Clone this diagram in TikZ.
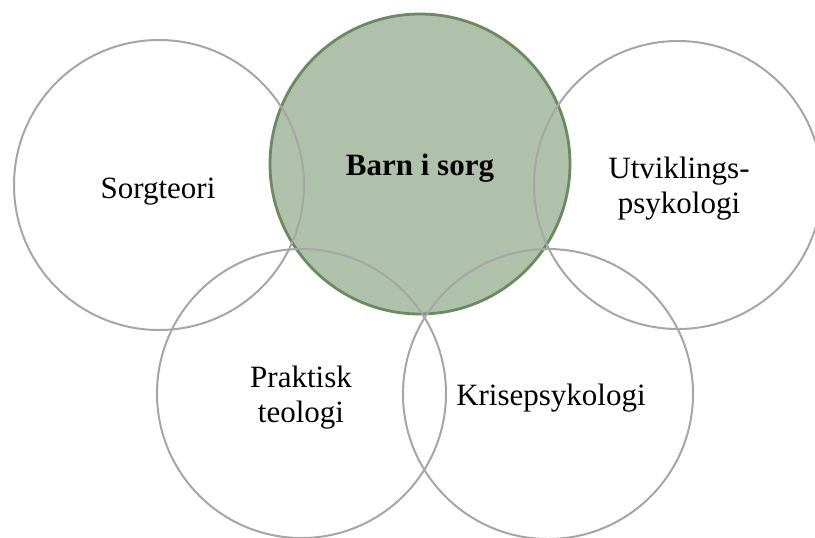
\documentclass[tikz,border=0pt]{standalone}
\usepackage{fontspec}
\setmainfont{Liberation Serif}
\definecolor{ringgray}{HTML}{A6A6A6}
\definecolor{hubfill}{HTML}{AFC1AB}
\definecolor{hubdraw}{HTML}{6A8A5F}
\begin{document}
\begin{tikzpicture}[x=0.5pt,y=-0.5pt,
  ring/.style={circle, draw=ringgray, line width=1pt, inner sep=0pt, minimum size=#1},
  hub/.style={circle, draw=hubdraw, fill=hubfill, line width=1.4pt, inner sep=0pt, minimum size=#1},
  lbl/.style={font=\fontsize{15.5}{17.5}\selectfont, align=center, inner sep=0pt, anchor=base}]
\useasboundingbox (0,0) rectangle (815,537);
\clip (0,0) rectangle (815,537);
\node[hub=150pt] (hubc) at (420,164) {};
\node[ring=145pt] (sorg) at (159,185) {};
\node[ring=144pt] (utv) at (678,185) {};
\node[ring=144.5pt] (prak) at (301.5,393.5) {};
\node[ring=145pt] (kris) at (548,394) {};
\node[lbl, font=\fontsize{15.5}{17.5}\selectfont\bfseries] (thub) at (420,175) {Barn i sorg};
\node[lbl] (tsorg) at (158,198) {Sorgteori};
\node[lbl] (tutv) at (679,213) {Utviklings-\\psykologi};
\node[lbl] (tprak) at (301,422) {Praktisk\\teologi};
\node[lbl] (tkris) at (551,405) {Krisepsykologi};
\end{tikzpicture}
\end{document}
